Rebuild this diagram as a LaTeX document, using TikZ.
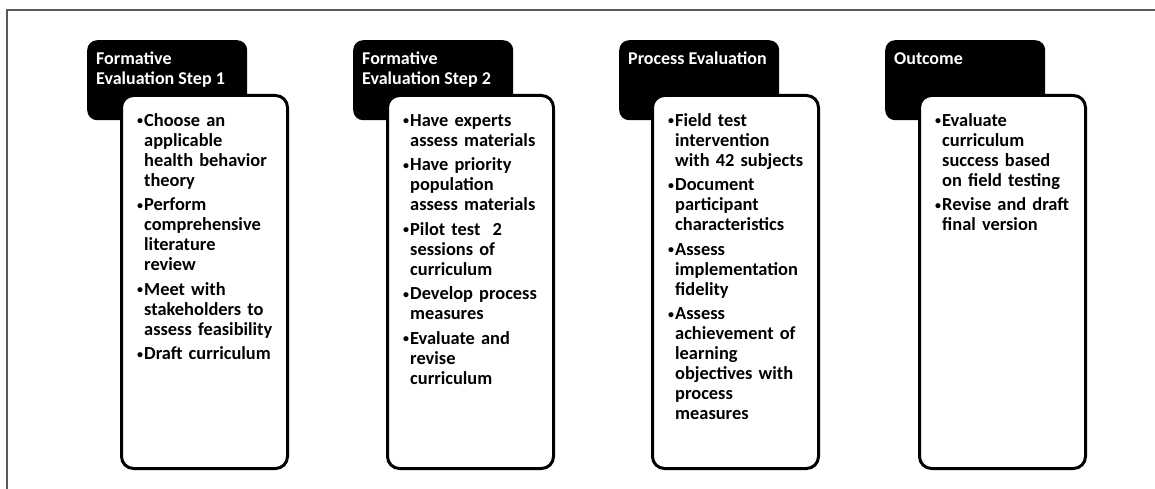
\documentclass[tikz,border=0pt]{standalone}
\usepackage{fontspec}
\setmainfont{Carlito}
\newcommand\itm[1]{\par\noindent\makebox[7pt][l]{\raisebox{1.5pt}{\scalebox{0.65}{\textbullet}}}%
  \begin{tabular}[t]{@{}l@{}}#1\end{tabular}\par\vskip 3.5pt}
\tikzset{
  tabbox/.style={fill=black, rounded corners=10pt, inner sep=0pt, anchor=north west,
    minimum width=160pt, minimum height=80pt},
  cardbox/.style={draw=black, line width=3pt, fill=white, rounded corners=12pt, inner sep=0pt,
    anchor=north west, minimum width=166pt, minimum height=373pt},
  headtxt/.style={anchor=north west, inner sep=0pt, text=white, align=left,
    font=\fontsize{18}{20}\selectfont\bfseries},
  bodytxt/.style={anchor=north west, inner sep=0pt, text width=160pt, align=left,
    font=\fontsize{18.4}{20}\selectfont\bfseries},
  framestyle/.style={draw=black!65, line width=1.4pt}
}
\begin{document}
\begin{tikzpicture}[x=1pt,y=-1pt]
\useasboundingbox (0,0) rectangle (1155,489);
\coordinate (fr1) at (1160,10);
\coordinate (fr2) at (7,10);
\coordinate (fr3) at (7,495);
\draw[framestyle] (fr1) -- (fr2) -- (fr3);

% column 1
\node[tabbox] (t1) at (87,40) {};
\node[cardbox] (c1) at (120,94) {};
\node[headtxt] (h1) at ([xshift=9pt,yshift=-12pt]t1.north west) {Formative\\Evaluation Step 1};
\node[bodytxt] (b1) at ([xshift=17pt,yshift=-12pt]c1.north west) {%
\itm{Choose an\\applicable\\health behavior\\theory}%
\itm{Perform\\comprehensive\\literature\\review}%
\itm{Meet with\\stakeholders to\\assess feasibility}%
\itm{Draft curriculum}};

% column 2
\node[tabbox] (t2) at (353,40) {};
\node[cardbox] (c2) at (386,94) {};
\node[headtxt] (h2) at ([xshift=9pt,yshift=-12pt]t2.north west) {Formative\\Evaluation Step 2};
\node[bodytxt] (b2) at ([xshift=17pt,yshift=-12pt]c2.north west) {%
\itm{Have experts\\assess materials}%
\itm{Have priority\\population\\assess materials}%
\itm{Pilot test\ \ 2\\sessions of\\curriculum}%
\itm{Develop process\\measures}%
\itm{Evaluate and\\revise\\curriculum}};

% column 3
\node[tabbox] (t3) at (619,40) {};
\node[cardbox] (c3) at (651,94) {};
\node[headtxt] (h3) at ([xshift=9pt,yshift=-12pt]t3.north west) {Process Evaluation};
\node[bodytxt] (b3) at ([xshift=17pt,yshift=-12pt]c3.north west) {%
\itm{Field test\\intervention\\with 42 subjects}%
\itm{Document\\participant\\characteristics}%
\itm{Assess\\implementation\\fidelity}%
\itm{Assess\\achievement of\\learning\\objectives with\\process\\measures}};

% column 4
\node[tabbox] (t4) at (885,40) {};
\node[cardbox] (c4) at (918,94) {};
\node[headtxt] (h4) at ([xshift=9pt,yshift=-12pt]t4.north west) {Outcome};
\node[bodytxt] (b4) at ([xshift=17pt,yshift=-12pt]c4.north west) {%
\itm{Evaluate\\curriculum\\success based\\on field testing}%
\itm{Revise and draft\\final version}};
\end{tikzpicture}
\end{document}
